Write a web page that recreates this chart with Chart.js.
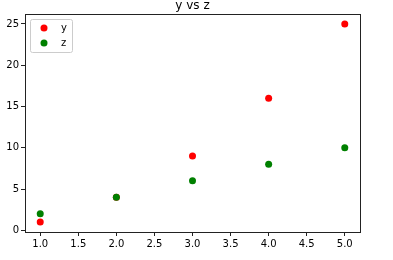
<!DOCTYPE html>
<html>
<head>
<meta charset="utf-8">
<script src="https://cdn.jsdelivr.net/npm/chart.js@4"></script>
<style>
html,body{margin:0;padding:0;background:#fff;}
#wrap{width:393px;height:260px;position:relative;}
</style>
</head>
<body>
<div id="wrap"><canvas id="c" width="393" height="260"></canvas></div>
<script>
const xValues = [1, 2, 3, 4, 5];
const yValues = [1, 4, 9, 16, 25];
const zValues = [2, 4, 6, 8, 10];
const xTicks = [1.0, 1.5, 2.0, 2.5, 3.0, 3.5, 4.0, 4.5, 5.0];
const yTicks = [0, 5, 10, 15, 20, 25];
const seriesNames = ['y', 'z'];
const titleText = 'y vs z';

const FONT = 'DejaVu Sans';

const frame = {
  id: 'frame',
  afterDraw(chart) {
    const {ctx, chartArea: a} = chart;
    ctx.save();
    ctx.strokeStyle = '#222';
    ctx.lineWidth = 1;
    ctx.strokeRect(Math.round(a.left) + 0.5, Math.round(a.top) + 0.5, Math.round(a.right - a.left), Math.round(a.bottom - a.top));
    // title
    ctx.fillStyle = '#000';
    ctx.font = '12px "' + FONT + '"';
    ctx.textAlign = 'center';
    ctx.textBaseline = 'alphabetic';
    ctx.fillText(titleText, (a.left + a.right) / 2, a.top - 5);
    // legend
    const lx = a.left + 5, ly = a.top + 5, lw = 42, lh = 33;
    ctx.fillStyle = 'rgba(255,255,255,0.8)';
    ctx.strokeStyle = '#ccc';
    ctx.beginPath();
    if (ctx.roundRect) ctx.roundRect(lx + 0.5, ly + 0.5, lw, lh, 2); else ctx.rect(lx + 0.5, ly + 0.5, lw, lh);
    ctx.fill(); ctx.stroke();
    chart.data.datasets.forEach((ds, i) => {
      const cy = ly + 9 + i * 15;
      ctx.fillStyle = ds.backgroundColor;
      ctx.beginPath();
      ctx.arc(lx + 14, cy, 3.5, 0, Math.PI * 2);
      ctx.fill();
      ctx.fillStyle = '#000';
      ctx.font = '10px "' + FONT + '"';
      ctx.textAlign = 'left';
      ctx.textBaseline = 'middle';
      ctx.fillText(ds.label, lx + 31, cy);
    });
    ctx.restore();
  }
};

new Chart(document.getElementById('c'), {
  type: 'scatter',
  data: {
    datasets: [
      { label: seriesNames[0], data: xValues.map((x, i) => ({x, y: yValues[i]})), backgroundColor: '#ff0000', borderColor: '#ff0000', pointRadius: 3.5, pointBorderWidth: 0, order: 2 },
      { label: seriesNames[1], data: xValues.map((x, i) => ({x, y: zValues[i]})), backgroundColor: '#008000', borderColor: '#008000', pointRadius: 3.5, pointBorderWidth: 0, order: 1 }
    ]
  },
  options: {
    responsive: false,
    animation: false,
    layout: { padding: { top: 14, right: 33, left: 0, bottom: 0 } },
    plugins: { legend: { display: false }, title: { display: false }, tooltip: { enabled: false } },
    scales: {
      x: {
        type: 'linear', min: 0.8, max: 5.2,
        afterBuildTicks: s => { s.ticks = xTicks.map(v => ({value: v})); },
        afterFit: s => { s.height = 28; },
        ticks: { color: '#000', font: { family: FONT, size: 10 }, padding: 2, maxRotation: 0, callback: v => v.toFixed(1) },
        grid: { drawOnChartArea: false, drawTicks: true, tickLength: 4, color: '#222' },
        border: { display: true, color: '#222' }
      },
      y: {
        type: 'linear', min: -0.2, max: 26.2,
        afterBuildTicks: s => { s.ticks = yTicks.map(v => ({value: v})); },
        afterFit: s => { s.width = 25; },
        ticks: { color: '#000', font: { family: FONT, size: 10 }, padding: 2, callback: v => String(v) },
        grid: { drawOnChartArea: false, drawTicks: true, tickLength: 4, color: '#222' },
        border: { display: true, color: '#222' }
      }
    }
  },
  plugins: [frame]
});
</script>
</body>
</html>
